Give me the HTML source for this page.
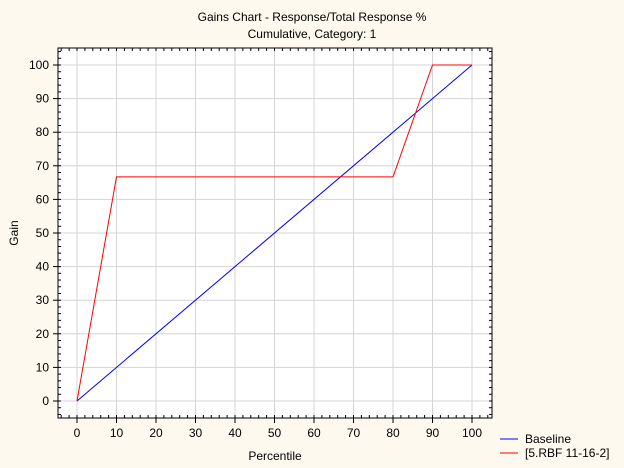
<!DOCTYPE html>
<html><head><meta charset="utf-8"><style>
html,body{margin:0;padding:0;background:#fdf9ee;}
svg{display:block;font-family:"Liberation Sans",Arial,sans-serif;}
</style></head><body>
<svg id="c" width="624" height="468">
<rect x="0" y="0" width="624" height="468" fill="#fdf9ee"/>
<text x="312" y="21" font-size="12" text-anchor="middle">Gains Chart - Response/Total Response %</text>
<text x="312" y="38" font-size="12" text-anchor="middle">Cumulative, Category: 1</text>
<rect x="58" y="48" width="434" height="370" fill="#ffffff"/>
<g id="grid"></g><g id="series"></g>
<rect x="58" y="48" width="434" height="370" fill="none" stroke="#000" stroke-width="1"/>
<g id="axes" font-size="12"></g>
<text x="275" y="460" font-size="12" text-anchor="middle">Percentile</text>
<text x="18" y="233" font-size="12" text-anchor="middle" transform="rotate(-90 18 233)">Gain</text>
<g>
<line x1="500" y1="439" x2="518" y2="439" stroke="#0000ff"/>
<text x="525" y="443" font-size="12">Baseline</text>
<line x1="500" y1="453" x2="518" y2="453" stroke="#ff0000"/>
<text x="525" y="457" font-size="12">[5.RBF 11-16-2]</text>
</g>
</svg>
<script>
const xTicks=[0,10,20,30,40,50,60,70,80,90,100];
const yTicks=[0,10,20,30,40,50,60,70,80,90,100];
const percentiles=[0,10,80,90,100];
const modelGain=[0,66.7,66.7,100,100];
const baselineX=[0,100];
const baselineGain=[0,100];
const NS="http://www.w3.org/2000/svg";
function X(v){return 77+v*3.95;}
function Y(v){return 401-v*3.36;}
function mk(t,a,p){const e=document.createElementNS(NS,t);for(const k in a)e.setAttribute(k,a[k]);p.appendChild(e);return e;}
const grid=document.getElementById('grid'),axes=document.getElementById('axes'),ser=document.getElementById('series');
xTicks.forEach(v=>{
 const g=mk('line',{x1:X(v),x2:X(v),y1:48,y2:418,stroke:'#d4d4d4'},grid);
 
 
 const t=mk('line',{x1:X(v),x2:X(v),y1:418,y2:423,stroke:'#000'},axes);
 
 
 const l=mk('text',{x:X(v),y:437,'text-anchor':'middle'},axes);l.textContent=v;
 
 
});
yTicks.forEach(v=>{
 const g=mk('line',{x1:58,x2:492,y1:Y(v),y2:Y(v),stroke:'#d4d4d4'},grid);
 
 
 const t=mk('line',{x1:53,x2:58,y1:Y(v),y2:Y(v),stroke:'#000'},axes);
 
 
 const l=mk('text',{x:49,y:Y(v)+4,'text-anchor':'end'},axes);l.textContent=v;
 
 
});
for(let v=-4;v<=104;v+=2){
 if(X(v)>58&&X(v)<492){
  const m=mk('line',{x1:X(v),x2:X(v),y1:418,y2:415,stroke:'#000'},axes);
  
  const m2=mk('line',{x1:X(v),x2:X(v),y1:48,y2:51,stroke:'#000'},axes);
  
 }
 if(Y(v)>48&&Y(v)<418){
  const m=mk('line',{x1:58,x2:61,y1:Y(v),y2:Y(v),stroke:'#000'},axes);
  
  const m2=mk('line',{x1:492,x2:489,y1:Y(v),y2:Y(v),stroke:'#000'},axes);
  
 }
}
const bl=mk('polyline',{points:baselineX.map((v,i)=>X(v)+','+Y(baselineGain[i])).join(' '),fill:'none',stroke:'#0000ff','stroke-width':1},ser);


const ml=mk('polyline',{points:percentiles.map((v,i)=>X(v)+','+Y(modelGain[i])).join(' '),fill:'none',stroke:'#ff0000','stroke-width':1},ser);


</script>
</body></html>
